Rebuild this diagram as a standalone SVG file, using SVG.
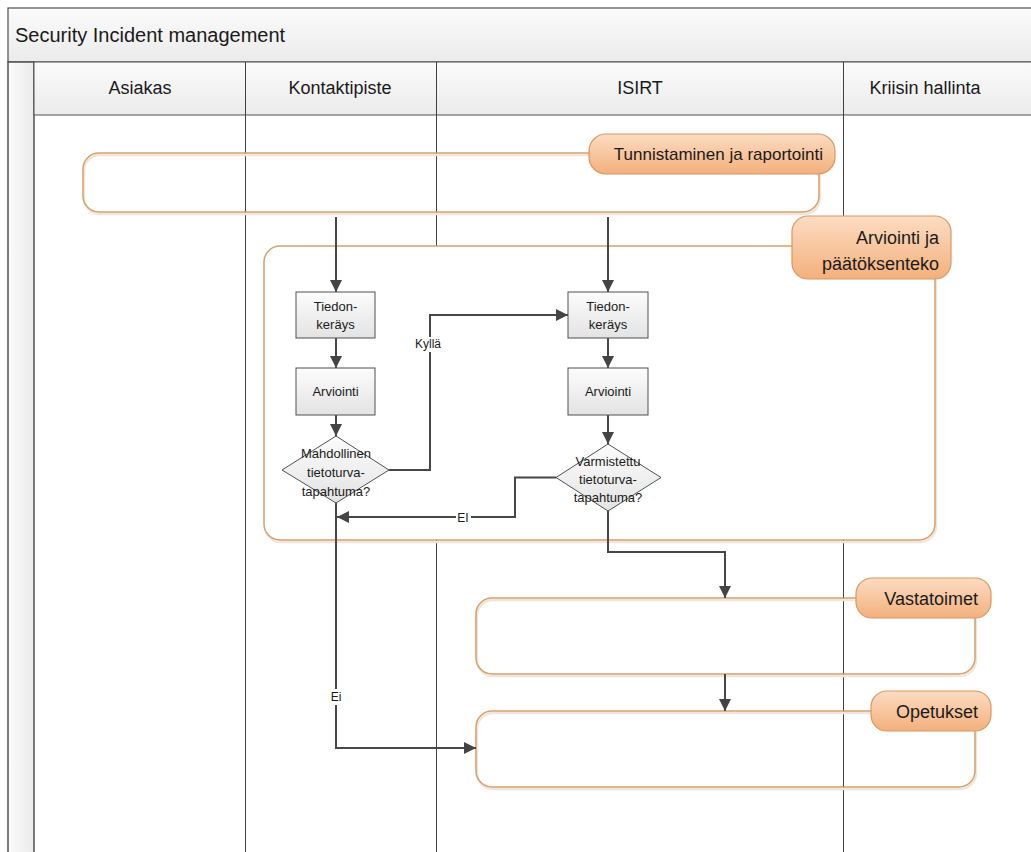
<svg xmlns="http://www.w3.org/2000/svg" width="1031" height="852" viewBox="0 0 1031 852">
<defs>
<linearGradient id="gPill" x1="0" y1="0" x2="0" y2="1"><stop offset="0" stop-color="#fcdcc2"/><stop offset="1" stop-color="#f3b07c"/></linearGradient>
<linearGradient id="gBox" x1="0" y1="0" x2="0" y2="1"><stop offset="0" stop-color="#fcfcfc"/><stop offset="1" stop-color="#e3e3e3"/></linearGradient>
<linearGradient id="gHead" x1="0" y1="0" x2="0" y2="1"><stop offset="0" stop-color="#fbfbfb"/><stop offset="1" stop-color="#ebebeb"/></linearGradient>
<linearGradient id="gStrip" x1="0" y1="0" x2="1" y2="0"><stop offset="0" stop-color="#fbfbfb"/><stop offset="1" stop-color="#ebebeb"/></linearGradient>
<marker id="arr" markerUnits="userSpaceOnUse" markerWidth="13" markerHeight="12" refX="12" refY="6" orient="auto"><path d="M0,0 L12,6 L0,12 z" fill="#444444"/></marker>
<style>
.t{font-family:"Liberation Sans",Arial,sans-serif;fill:#1a1a1a}
.lane{stroke:#404040;stroke-width:1;fill:none}
.grp{fill:none;stroke:#d6a06c;stroke-width:1.5}
.shd{fill:none;stroke:#f1e6dc;stroke-width:2.5}
.pill{fill:url(#gPill);stroke:#d89862;stroke-width:1.2}
.box{fill:url(#gBox);stroke:#505050;stroke-width:1}
.con{fill:none;stroke:#474747;stroke-width:2}
.ptxt{font-size:18px;text-anchor:end}
.btxt{font-size:13px;text-anchor:middle}
.lbl{font-size:12px;text-anchor:middle}
.hdr{font-size:18px;text-anchor:middle}
</style>
</defs>
<rect width="1031" height="852" fill="#ffffff"/>
<g id="pool">
<rect x="8" y="8" width="1030" height="54" fill="url(#gHead)" stroke="#505050" stroke-width="1.2"/>
<text class="t" x="15" y="42" font-size="20">Security Incident management</text>
<rect x="8" y="62" width="26" height="800" fill="url(#gStrip)" stroke="#505050" stroke-width="1.5"/>
<rect x="34" y="62" width="1004" height="53" fill="url(#gHead)" stroke="#505050" stroke-width="1"/>
<text class="t hdr" x="140" y="94">Asiakas</text>
<text class="t hdr" x="340" y="94">Kontaktipiste</text>
<text class="t hdr" x="640" y="94">ISIRT</text>
<text class="t hdr" x="925" y="94">Kriisin hallinta</text>
<path class="lane" d="M245.5,62 V852 M436.5,62 V852 M843.5,62 V852"/>
</g>
<g id="grp-tunnistaminen">
<rect class="shd" x="84" y="155" width="736" height="59" rx="16"/>
<rect class="grp" x="83" y="153" width="736" height="59" rx="16"/>
<rect class="pill" x="589" y="134" width="246" height="40" rx="17"/>
<text class="t" x="823" y="160" font-size="17" text-anchor="end">Tunnistaminen ja raportointi</text>
</g>
<g id="grp-arviointi">
<rect class="shd" x="265" y="248" width="671" height="294" rx="16"/>
<rect class="grp" x="264" y="246" width="671" height="294" rx="16" style="fill:#ffffff"/>
<rect class="pill" x="792" y="216" width="159" height="63" rx="16"/>
<text class="t ptxt" x="939" y="244">Arviointi ja</text>
<text class="t ptxt" x="939" y="270">päätöksenteko</text>
</g>
<g id="grp-vastatoimet">
<rect class="shd" x="477" y="600" width="499" height="76" rx="16"/>
<rect class="grp" x="476" y="598" width="499" height="76" rx="16"/>
<rect class="pill" x="856" y="578" width="135" height="40" rx="16"/>
<text class="t ptxt" x="978" y="605">Vastatoimet</text>
</g>
<g id="grp-opetukset">
<rect class="shd" x="477" y="713" width="499" height="76" rx="16"/>
<rect class="grp" x="476" y="711" width="499" height="76" rx="16"/>
<rect class="pill" x="871" y="691" width="120" height="40" rx="16"/>
<text class="t ptxt" x="978" y="718">Opetukset</text>
</g>
<g id="connectors">
<path class="con" d="M336,217 V292" marker-end="url(#arr)"/>
<path class="con" d="M608,217 V292" marker-end="url(#arr)"/>
<path class="con" d="M336,338 V368" marker-end="url(#arr)"/>
<path class="con" d="M608,338 V368" marker-end="url(#arr)"/>
<path class="con" d="M336,415 V436" marker-end="url(#arr)"/>
<path class="con" d="M608,415 V444" marker-end="url(#arr)"/>
<path class="con" d="M389,470 H430 V315 H568" marker-end="url(#arr)"/>
<path class="con" d="M556,477.5 H515 V517 H337" marker-end="url(#arr)"/>
<path class="con" d="M336,503 V748 H476" marker-end="url(#arr)"/>
<path class="con" d="M608,511 V552 H725 V598" marker-end="url(#arr)"/>
<path class="con" d="M725,674 V711" marker-end="url(#arr)"/>
<rect x="413" y="337" width="30" height="15" fill="#ffffff"/>
<text class="t lbl" x="428" y="348">Kyllä</text>
<rect x="456" y="510" width="15" height="15" fill="#ffffff"/>
<text class="t lbl" x="463" y="522">EI</text>
<rect x="329" y="689" width="14" height="16" fill="#ffffff"/>
<text class="t lbl" x="336" y="701">Ei</text>
</g>
<g id="n-tiedon1">
<rect class="box" x="296" y="292" width="79" height="46"/>
<text class="t btxt" x="335.5" y="311">Tiedon-</text>
<text class="t btxt" x="335.5" y="329">keräys</text>
</g>
<g id="n-arv1">
<rect class="box" x="296" y="368" width="79" height="47"/>
<text class="t btxt" x="335.5" y="396">Arviointi</text>
</g>
<g id="n-dec1">
<polygon class="box" points="336,436 389,470 336,503 282,470"/>
<text class="t btxt" x="336" y="458">Mahdollinen</text>
<text class="t btxt" x="336" y="477">tietoturva-</text>
<text class="t btxt" x="336" y="496">tapahtuma?</text>
</g>
<g id="n-tiedon2">
<rect class="box" x="568" y="292" width="80" height="46"/>
<text class="t btxt" x="608" y="311">Tiedon-</text>
<text class="t btxt" x="608" y="329">keräys</text>
</g>
<g id="n-arv2">
<rect class="box" x="568" y="368" width="80" height="47"/>
<text class="t btxt" x="608" y="396">Arviointi</text>
</g>
<g id="n-dec2">
<polygon class="box" points="608,444 661,477.5 608,511 556,477.5"/>
<text class="t btxt" x="608" y="466">Varmistettu</text>
<text class="t btxt" x="608" y="484">tietoturva-</text>
<text class="t btxt" x="608" y="502">tapahtuma?</text>
</g>
</svg>
